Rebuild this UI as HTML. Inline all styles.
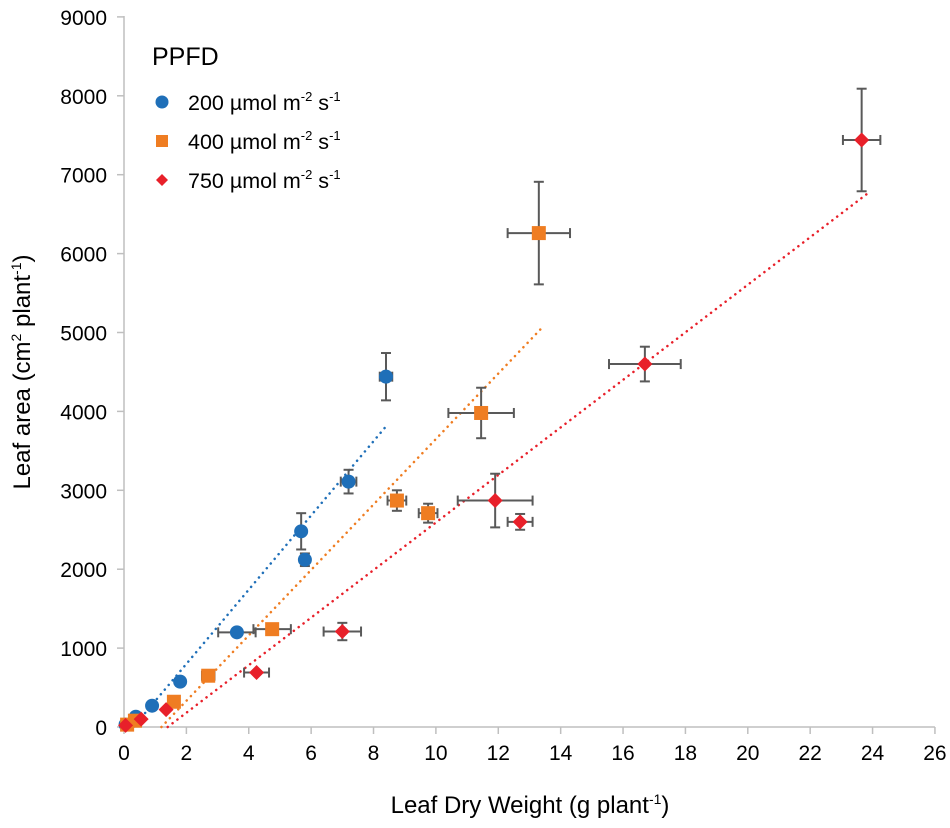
<!DOCTYPE html>
<html><head><meta charset="utf-8"><style>
body{margin:0;background:#fff}
svg{display:block;font-family:"Liberation Sans",sans-serif}
</style></head><body>
<svg id="chart" width="950" height="828" viewBox="0 0 950 828" xmlns="http://www.w3.org/2000/svg"></svg>
<script>
const xTicks=[0,2,4,6,8,10,12,14,16,18,20,22,24,26];
const yTicks=[0,1000,2000,3000,4000,5000,6000,7000,8000,9000];
const seriesNames=["200 µmol","400 µmol","750 µmol"];
const s200x=[0.05,0.38,0.9,1.8,3.62,5.8,5.68,7.2,8.4];
const s200y=[30,130,270,575,1200,2120,2480,3110,4440];
const s200ex=[0,0,0,0,0.6,0,0,0.25,0.2];
const s200ey=[0,0,0,0,0,80,230,150,300];
const s400x=[0.1,0.35,1.6,2.7,4.75,8.75,9.75,11.45,13.3];
const s400y=[30,80,320,650,1240,2870,2710,3980,6260];
const s400ex=[0,0,0,0.2,0.6,0.3,0.3,1.05,1.0];
const s400ey=[0,0,0,0,50,130,120,320,650];
const s750x=[0.05,0.55,1.35,4.25,7.0,11.9,12.7,16.7,23.65];
const s750y=[20,100,220,690,1210,2870,2600,4600,7440];
const s750ex=[0,0,0,0.4,0.6,1.2,0.4,1.15,0.6];
const s750ey=[0,0,0,0,110,340,100,220,650];
const trend200=[[0.3,0],[8.4,3810]];
const trend400=[[1.2,0],[13.4,5060]];
const trend750=[[1.4,0],[23.8,6750]];

const NS="http://www.w3.org/2000/svg";
const svg=document.getElementById('chart');
const X0=124,XU=31.19,Y0=727,YU=0.0789;
const sx=v=>X0+v*XU, sy=v=>Y0-v*YU;
function mk(t,a,p){const e=document.createElementNS(NS,t);for(const k in a)e.setAttribute(k,a[k]);(p||svg).appendChild(e);return e;}
const axes=mk('g',{});


mk('line',{x1:X0,y1:16,x2:X0,y2:Y0,stroke:'#bfbfbf','stroke-width':1.5},axes);
mk('line',{x1:X0,y1:Y0,x2:sx(26),y2:Y0,stroke:'#bfbfbf','stroke-width':1.5},axes);
xTicks.forEach(v=>{
  mk('line',{x1:sx(v),y1:Y0,x2:sx(v),y2:Y0+7,stroke:'#bfbfbf','stroke-width':1.5},axes);
  const t=mk('text',{x:sx(v),y:Y0+33,'text-anchor':'middle','font-size':21,fill:'#000'},axes);
  t.textContent=v;
  
  
});
yTicks.forEach(v=>{
  mk('line',{x1:X0-7,y1:sy(v),x2:X0,y2:sy(v),stroke:'#bfbfbf','stroke-width':1.5},axes);
  const t=mk('text',{x:X0-17,y:sy(v)+8,'text-anchor':'end','font-size':21,fill:'#000'},axes);
  t.textContent=v;
  
  
});
const xt=mk('text',{x:530,y:813,'text-anchor':'middle','font-size':24});
xt.innerHTML='Leaf Dry Weight (g plant<tspan dy="-9" font-size="14">-1</tspan><tspan dy="9">)</tspan>';


const yt=mk('text',{x:0,y:0,'text-anchor':'middle','font-size':24,transform:'translate(30,372) rotate(-90)'});
yt.innerHTML='Leaf area (cm<tspan dy="-9" font-size="14">2</tspan><tspan dy="9"> plant</tspan><tspan dy="-9" font-size="14">-1</tspan><tspan dy="9">)</tspan>';



const cols=['#1f6fb8','#ef7d22','#e8202a'];
const trends=[trend200,trend400,trend750];
trends.forEach((tr,i)=>{
  const l=mk('line',{x1:sx(tr[0][0]),y1:sy(tr[0][1]),x2:sx(tr[1][0]),y2:sy(tr[1][1]),stroke:cols[i],'stroke-width':2.5,'stroke-dasharray':'0.1 6','stroke-linecap':'round'});
  
  
});
const data=[[s200x,s200y,s200ex,s200ey],[s400x,s400y,s400ex,s400ey],[s750x,s750y,s750ex,s750ey]];
data.forEach((d,i)=>{
  const g=mk('g',{});
  
  
  d[0].forEach((xv,j)=>{
    const cx=sx(xv),cy=sy(d[1][j]),ex=d[2][j]*XU,ey=d[3][j]*YU,ec='#595959';
    if(ex>0){mk('line',{x1:cx-ex,y1:cy,x2:cx+ex,y2:cy,stroke:ec,'stroke-width':2},g);
      mk('line',{x1:cx-ex,y1:cy-5,x2:cx-ex,y2:cy+5,stroke:ec,'stroke-width':2},g);
      mk('line',{x1:cx+ex,y1:cy-5,x2:cx+ex,y2:cy+5,stroke:ec,'stroke-width':2},g);}
    if(ey>0){mk('line',{x1:cx,y1:cy-ey,x2:cx,y2:cy+ey,stroke:ec,'stroke-width':2},g);
      mk('line',{x1:cx-5,y1:cy-ey,x2:cx+5,y2:cy-ey,stroke:ec,'stroke-width':2},g);
      mk('line',{x1:cx-5,y1:cy+ey,x2:cx+5,y2:cy+ey,stroke:ec,'stroke-width':2},g);}
    let m;
    if(i===0)m=mk('circle',{cx:cx,cy:cy,r:7,fill:cols[0]},g);
    else if(i===1)m=mk('rect',{x:cx-7,y:cy-7,width:14,height:14,fill:cols[1]},g);
    else m=mk('polygon',{points:`${cx},${cy-7.5} ${cx+7.5},${cy} ${cx},${cy+7.5} ${cx-7.5},${cy}`,fill:cols[2]},g);
    
    
  });
});
const lg=mk('g',{});


const lt=mk('text',{x:152,y:65,'font-size':25},lg);lt.textContent='PPFD';
const labels=['200','400','750'];
labels.forEach((n,i)=>{
  const y=102+i*39, cx=162;
  let m;
  if(i===0)m=mk('circle',{cx:cx,cy:y,r:6.5,fill:cols[0]},lg);
  else if(i===1)m=mk('rect',{x:cx-6,y:y-6,width:12,height:12,fill:cols[1]},lg);
  else m=mk('polygon',{points:`${cx},${y-6} ${cx+6},${y} ${cx},${y+6} ${cx-6},${y}`,fill:cols[2]},lg);
  
  
  const t=mk('text',{x:188,y:y+8,'font-size':21.5},lg);
  t.innerHTML=n+' µmol m<tspan dy="-9" font-size="13">-2</tspan><tspan dy="9"> s</tspan><tspan dy="-9" font-size="13">-1</tspan>';
  
  
});
</script>
</body></html>
